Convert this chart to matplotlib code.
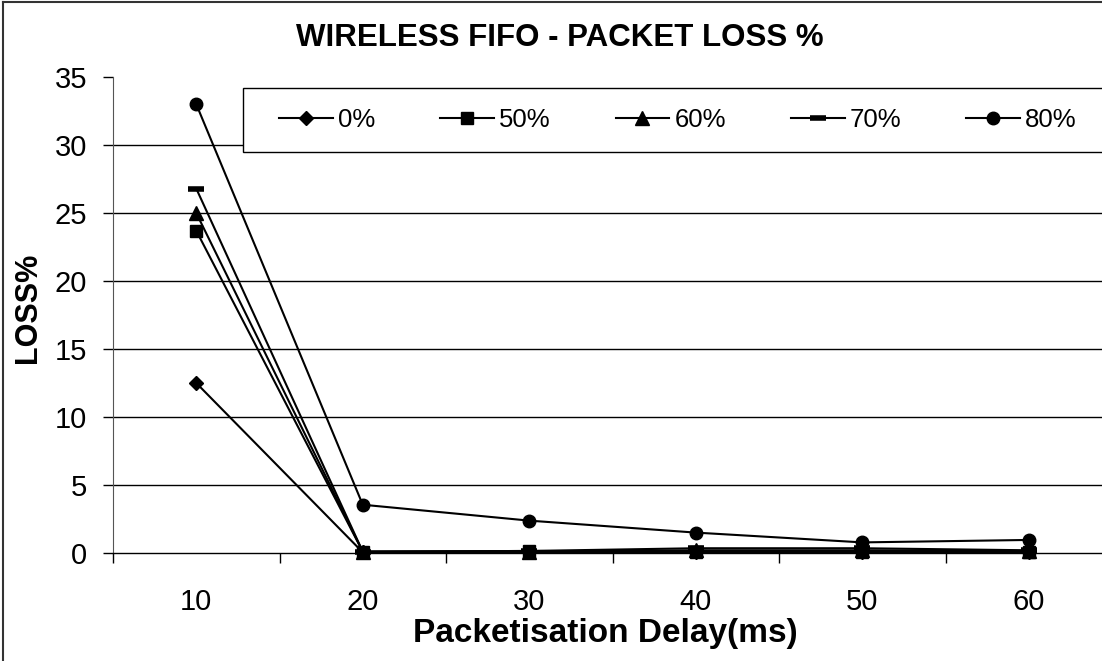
import matplotlib
matplotlib.use('Agg')
import matplotlib.pyplot as plt
from matplotlib.lines import Line2D
from matplotlib.patches import Rectangle

# packetisation delay categories (ms)
delays = ['10', '20', '30', '40', '50', '60']

# packet loss % for each background load
loss_0 = [12.5, 0.05, 0.05, 0.05, 0.05, 0.05]
loss_50 = [23.7, 0.1, 0.15, 0.1, 0.1, 0.1]
loss_60 = [25.0, 0.1, 0.1, 0.2, 0.2, 0.15]
loss_70 = [26.8, 0.1, 0.15, 0.35, 0.35, 0.2]
loss_80 = [33.0, 3.55, 2.38, 1.5, 0.78, 0.96]

series_labels = ['0%', '50%', '60%', '70%', '80%']
y_ticks = [0, 5, 10, 15, 20, 25, 30, 35]

plt.rcParams['font.family'] = ['Liberation Sans', 'DejaVu Sans']

W, H = 1102, 661
fig = plt.figure(figsize=(W / 100, H / 100), dpi=100)
ax = fig.add_axes([113 / W, 1 - 553 / H, 999 / W, 476 / H])

x = list(range(len(delays)))
styles = [
    dict(marker='D', ms=7),
    dict(marker='s', ms=8.5),
    dict(marker='^', ms=10),
    dict(marker='_', ms=12, mew=4),
    dict(marker='o', ms=9),
]
all_series = [loss_0, loss_50, loss_60, loss_70, loss_80]
for vals, lab, st in zip(all_series, series_labels, styles):
    ax.plot(x, vals, color='black', lw=1.5, label=lab, zorder=3,
            clip_on=False, **st)

# horizontal gridlines (not at 0 or at the top)
ax.hlines(y_ticks[1:-1], -0.5, len(delays) - 0.5, color='black', lw=1,
          zorder=1)

ax.set_xlim(-0.5, len(delays) - 0.5)
ax.set_ylim(y_ticks[0], y_ticks[-1])
ax.set_yticks(y_ticks)
ax.set_xticks(x)
ax.set_xticklabels(delays)
ax.set_xticks([i - 0.5 for i in range(len(delays) + 1)], minor=True)
ax.tick_params(axis='x', which='major', length=0, pad=25, labelsize=21)
ax.tick_params(axis='x', which='minor', length=7.5, width=1, direction='out')
ax.tick_params(axis='y', length=7.5, width=1, pad=11, labelsize=21)

for s in ['top', 'right']:
    ax.spines[s].set_visible(False)
ax.spines['left'].set_color('#555555')
ax.spines['bottom'].set_linewidth(1)

ax.set_xlabel('Packetisation Delay(ms)', fontsize=24, fontweight='bold')
ax.xaxis.set_label_coords(605 / W, 1 - 618 / H, transform=fig.transFigure)
ax.set_ylabel('LOSS%', fontsize=22, fontweight='bold')
ax.yaxis.set_label_coords(43 / W, 1 - 308 / H, transform=fig.transFigure)

fig.text(560 / W, 1 - 38 / H, 'WIRELESS FIFO - PACKET LOSS %',
         ha='center', va='center', fontsize=22.5, fontweight='bold')

# legend frame runs off the right edge, like the cropped original
fig.patches.append(Rectangle((243 / W, 1 - 152 / H), 1000 / W, 64 / H,
                             transform=fig.transFigure, facecolor='white',
                             edgecolor='black', lw=1, zorder=4))
leg = fig.legend(loc='center left', ncol=5, mode='expand',
                 bbox_to_anchor=(279 / W, 1 - 152 / H, 798 / W, 64 / H),
                 fontsize=18.5, frameon=False, handlelength=2.1,
                 handletextpad=0.2, borderaxespad=0, borderpad=0)
leg.set_zorder(5)

# outer chart border (left and top edges only are visible)
fig.add_artist(Line2D([3 / W, 3 / W], [0, 1 - 2 / H], color='#333333',
                      lw=1.5, transform=fig.transFigure))
fig.add_artist(Line2D([3 / W, 1], [1 - 2 / H, 1 - 2 / H], color='#333333',
                      lw=1.5, transform=fig.transFigure))

fig.savefig('out.png', dpi=100)
